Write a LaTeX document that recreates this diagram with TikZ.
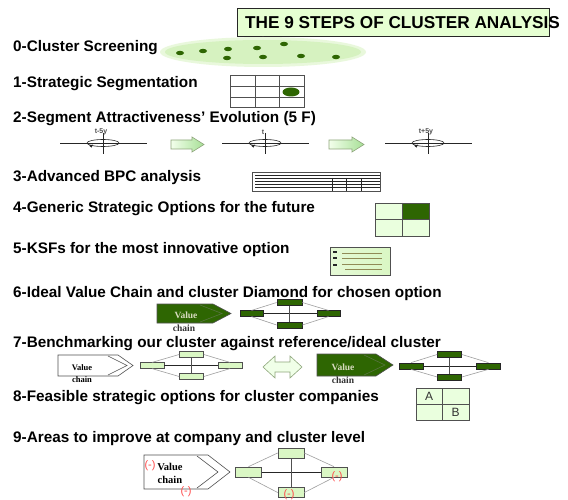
\documentclass[tikz,border=0pt]{standalone}
\usepackage{fontspec}
\setmainfont{Liberation Sans}
\newfontfamily\vcfont{Liberation Serif}
\usetikzlibrary{arrows.meta}
\definecolor{titlegreen}{HTML}{E6FFD2}
\definecolor{lgreen}{HTML}{DAF7C4}
\definecolor{pgreen}{HTML}{EAFFDE}
\definecolor{dgreen}{HTML}{2E6602}
\definecolor{edge}{HTML}{505050}
\definecolor{minusred}{HTML}{FF4D4D}
\definecolor{blobgreen}{HTML}{D6F2C0}
\definecolor{arrowedge}{HTML}{8FA67C}
\definecolor{paletext}{HTML}{D8DCC0}
\begin{document}
\begin{tikzpicture}[x=1pt,y=-1pt,
  steplabel/.style={anchor=base west, inner sep=0pt, font=\fontsize{15.3}{15.3}\selectfont\bfseries},
  lbox/.style={draw=edge, fill=lgreen, line width=0.7pt, inner sep=0pt, minimum width=24pt, minimum height=6pt},
  dbox/.style={lbox, fill=dgreen, draw=black!85},
  hub/.style={line width=0.7pt, draw=black!85},
  mast/.style={line width=0.7pt, draw=edge},
  spoke/.style={line width=0.6pt, draw=gray!75},
  vtext/.style={font=\vcfont\bfseries\fontsize{9.5}{9.5}\selectfont, inner sep=0pt},
  minus/.style={font=\fontsize{11}{11}\selectfont, text=minusred, inner sep=0pt},
  axis/.style={line width=0.6pt, draw=black!85},
  ticklabel/.style={font=\fontsize{7}{7}\selectfont\bfseries, text=black!70, inner sep=0pt},
  blockarrow/.style={draw=arrowedge, line width=0.6pt, left color=pgreen!60!white, right color=lgreen!85!green!90!black},
  gridline/.style={draw=edge, line width=0.7pt},
  dot/.style={fill=dgreen}
]
\useasboundingbox (0,0) rectangle (568,500);
\fill[white] (0,0) rectangle (568,500);

% --- title ---
\node[draw=black!85, fill=titlegreen, line width=0.8pt, minimum width=312pt, minimum height=28pt,
      anchor=north west, inner sep=0pt] (titlebox) at (237,8) {};
\node[anchor=base west, inner sep=0pt, font=\fontsize{17.2}{17.2}\selectfont\bfseries] (title) at (245,28.5)
  {THE 9 STEPS OF CLUSTER ANALYSIS};

% --- step labels ---
\node[steplabel] (s0) at (13,52) {0-Cluster Screening};
\node[steplabel] (s1) at (13,88) {1-Strategic Segmentation};
\node[steplabel] (s2) at (13,123) {2-Segment Attractiveness' Evolution (5 F)};
\node[steplabel] (s3) at (13,182) {3-Advanced BPC analysis};
\node[steplabel] (s4) at (13,213) {4-Generic Strategic Options for the future};
\node[steplabel] (s5) at (13,253) {5-KSFs for the most innovative option};
\node[steplabel] (s6) at (13,297) {6-Ideal Value Chain and cluster Diamond for chosen option};
\node[steplabel] (s7) at (13,347.5) {7-Benchmarking our cluster against reference/ideal cluster};
\node[steplabel] (s8) at (13,401) {8-Feasible strategic options for cluster companies};
\node[steplabel] (s9) at (13,442) {9-Areas to improve at company and cluster level};

% --- 0: screening cloud with firms ---
\fill[blobgreen!55] (263,52) ellipse [x radius=103, y radius=15];
\fill[blobgreen] (263,52) ellipse [x radius=98, y radius=12];
\foreach \px/\py in {180/53,203/51,228/49,257/48,284/44,227/58,263/57,301/56,336/57}
  \fill[dot] (\px,\py) ellipse [x radius=4, y radius=2.2];

% --- 1: segmentation grid ---
\draw[gridline] (230,75) rectangle (304,107);
\draw[gridline] (230,86) -- (304,86) (230,97) -- (304,97) (255,75) -- (255,107) (279,75) -- (279,107);
\fill[dgreen] (291,92) ellipse [x radius=8.5, y radius=4.5];

% --- 2: attractiveness at t-5y, t, t+5y ---
\foreach \cx/\lab in {103/t-5y,265/t,428/t+5y}{
  \draw[axis] (\cx-43,143) -- (\cx+44,143);
  \draw[axis] (\cx,133) -- (\cx,154);
  \draw[axis] (\cx,143) ellipse [x radius=16, y radius=3.5];
  \fill[black!85] (\cx-14,145.5) -- (\cx-10,144.6) -- (\cx-11.5,147.6) -- cycle;
  \node[ticklabel] at (\cx-2,132) {\lab};
}
\path[blockarrow] (171,140) -- (192,140) -- (192,137) -- (204,144.5) -- (192,152) -- (192,149) -- (171,149) -- cycle;
\path[blockarrow] (329,140) -- (352,140) -- (352,137) -- (364,144.5) -- (352,152) -- (352,149) -- (329,149) -- cycle;

% --- 3: BPC table ---
\draw[line width=0.8pt, draw=edge] (252,172) rectangle (380,191);
\foreach \hy in {175,178,181,184.5,187.5}
  \draw[line width=0.6pt, draw=black!85] (255,\hy) -- (380,\hy);
\foreach \vx in {332,346,361}
  \draw[line width=0.6pt, draw=black!85] (\vx,178) -- (\vx,191);

% --- 4: generic options matrix ---
\fill[pgreen] (375,203) rectangle (429,236);
\fill[dgreen] (402,203) rectangle (429,219);
\draw[gridline] (375,203) rectangle (429,236) (402,203) -- (402,236) (375,219) -- (429,219);

% --- 5: KSF list ---
\draw[draw=edge, line width=0.8pt, left color=lgreen!70!white, right color=lgreen] (330,247) rectangle (390,275);
\foreach \ly in {252,258,265}
  \draw[line width=1.2pt, draw=black!85] (333,\ly) -- (337,\ly);
\foreach \ly/\lx in {253/342,258.5/342,264/342,269/345}
  \draw[line width=0.8pt, draw=gray!60!olive] (\lx,\ly) -- (382,\ly);

% --- 6: ideal value chain and diamond ---
\path[fill=dgreen, draw=edge, line width=0.6pt] (157,304) -- (213,304) -- (231,313.5) -- (213,323) -- (157,323) -- cycle;
\draw[draw=gray!50!dgreen, line width=0.6pt] (200,305) -- (222,313.5) -- (200,322);
\node[vtext, text=paletext] (vc6v) at (186,315) {Value};
\node[vtext, text=black!80] (vc6c) at (184,328) {chain};
\node[dbox, minimum width=23pt, minimum height=5.5pt] (d6l) at (251.5,313.5) {};
\node[dbox, minimum width=25pt, minimum height=5.5pt] (d6t) at (289.5,302.5) {};
\node[dbox, minimum width=25pt, minimum height=6pt] (d6b) at (289.5,325) {};
\node[dbox, minimum width=23pt, minimum height=5.5pt] (d6r) at (328.5,313.5) {};
\draw[hub] (d6l.east) -- (d6r.west);
\draw[mast] (d6t.south) -- (d6b.north);
\draw[spoke] (d6l.north) -- (d6t.west) (d6l.south) -- (d6b.west) (d6t.east) -- (d6r.north) (d6b.east) -- (d6r.south);

% --- 7: our cluster vs reference cluster ---
\path[fill=white, draw=edge, line width=0.6pt] (58,355) -- (118,355) -- (133,365.5) -- (118,376) -- (58,376) -- cycle;
\draw[draw=edge, line width=0.6pt] (108,356) -- (127,365.5) -- (108,375);
\node[vtext, font=\vcfont\bfseries\fontsize{8.5}{8.5}\selectfont] (vc7v) at (82,367.5) {Value};
\node[vtext, font=\vcfont\bfseries\fontsize{8.5}{8.5}\selectfont] (vc7c) at (82,380) {chain};
\node[lbox, minimum height=5.5pt] (d7l) at (152,365.5) {};
\node[lbox, minimum height=5.5pt] (d7t) at (191.5,354.5) {};
\node[lbox, minimum height=5.5pt] (d7b) at (191.5,376.5) {};
\node[lbox, minimum height=5.5pt] (d7r) at (230,365.5) {};
\draw[hub] (d7l.east) -- (d7r.west);
\draw[mast] (d7t.south) -- (d7b.north);
\draw[spoke] (d7l.north) -- (d7t.west) (d7l.south) -- (d7b.west) (d7t.east) -- (d7r.north) (d7b.east) -- (d7r.south);

\path[draw=arrowedge, line width=0.6pt, fill=pgreen!70!white]
  (263,367) -- (275,356) -- (275,362) -- (290,362) -- (290,356) -- (302,367) -- (290,378) -- (290,372) -- (275,372) -- (275,378) -- cycle;

\path[fill=dgreen, draw=edge, line width=0.6pt] (317,354) -- (376,354) -- (393,365) -- (376,376) -- (317,376) -- cycle;
\draw[draw=gray!50!dgreen, line width=0.6pt] (364,355) -- (385,365) -- (364,375);
\node[vtext, text=paletext] (vc7rv) at (343,367) {Value};
\node[vtext, text=black!80] (vc7rc) at (343,380) {chain};
\node[dbox] (d7rl) at (411,366) {};
\node[dbox] (d7rt) at (449.5,354.5) {};
\node[dbox] (d7rb) at (449.5,377) {};
\node[dbox] (d7rr) at (488.5,366) {};
\draw[hub] (d7rl.east) -- (d7rr.west);
\draw[mast] (d7rt.south) -- (d7rb.north);
\draw[spoke] (d7rl.north) -- (d7rt.west) (d7rl.south) -- (d7rb.west) (d7rt.east) -- (d7rr.north) (d7rb.east) -- (d7rr.south);

% --- 8: feasible options A / B ---
\fill[pgreen] (416,388) rectangle (469,420);
\draw[gridline] (416,388) rectangle (469,420) (442,388) -- (442,420) (416,404) -- (469,404);
\node[inner sep=0pt, font=\fontsize{12}{12}\selectfont, text=black!80] (optA) at (429,396) {A};
\node[inner sep=0pt, font=\fontsize{12}{12}\selectfont, text=black!80] (optB) at (455.5,412) {B};

% --- 9: areas to improve ---
\path[fill=white, draw=edge, line width=0.6pt] (144,455) -- (208,455) -- (230,472) -- (208,489) -- (144,489) -- cycle;
\draw[draw=edge, line width=0.6pt] (197,456) -- (218,472) -- (197,488);
\node[vtext, font=\vcfont\bfseries\fontsize{10.5}{10.5}\selectfont] (vc9v) at (170,467) {Value};
\node[vtext, font=\vcfont\bfseries\fontsize{10.5}{10.5}\selectfont] (vc9c) at (170,479.5) {chain};
\node[minus] (m9a) at (150,466) {(-)};
\node[minus] (m9b) at (186,492) {(-)};
\node[lbox, minimum width=26pt, minimum height=10pt] (d9l) at (248.5,472) {};
\node[lbox, minimum width=26pt, minimum height=10pt] (d9t) at (291,453) {};
\node[lbox, minimum width=26pt, minimum height=10pt] (d9b) at (291,492.5) {};
\node[lbox, minimum width=26pt, minimum height=10pt] (d9r) at (334,472) {};
\draw[hub] (d9l.east) -- (d9r.west);
\draw[mast] (d9t.south) -- (d9b.north);
\draw[spoke] (d9l.north) -- (d9t.west) (d9l.south) -- (d9b.west) (d9t.east) -- (d9r.north) (d9b.east) -- (d9r.south);
\node[minus] (m9c) at (337,477) {(-)};
\node[minus] (m9d) at (289,495) {(-)};
\end{tikzpicture}
\end{document}
